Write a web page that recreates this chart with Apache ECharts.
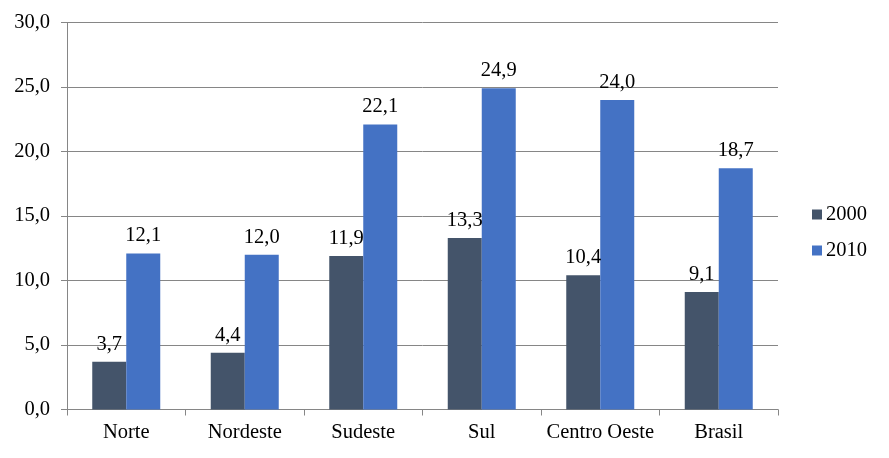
<!DOCTYPE html>
<html>
<head>
<meta charset="utf-8">
<script src="https://cdn.jsdelivr.net/npm/echarts@6/dist/echarts.min.js"></script>
<style>html,body{margin:0;padding:0;background:#fff;overflow:hidden;}#c{width:889px;height:458px;}
#pre{position:absolute;left:-1000px;top:0;font:20px 'Liberation Serif';}</style>
</head>
<body>
<div id="pre">0,123456789 Norte</div>
<div id="c"></div>
<script>
const categories = ['Norte', 'Nordeste', 'Sudeste', 'Sul', 'Centro Oeste', 'Brasil'];
const series2000 = [3.7, 4.4, 11.9, 13.3, 10.4, 9.1];
const series2010 = [12.1, 12.0, 22.1, 24.9, 24.0, 18.7];
const seriesNames = ['2000', '2010'];

const fmt = v => Number(v).toFixed(1).replace('.', ',');
const FONT = 'Liberation Serif';
const FS = 20.5;
const lbl = {show: true, position: 'top', distance: 7, color: '#000', fontFamily: FONT, fontSize: FS,
  formatter: p => fmt(p.value)};

const chart = echarts.init(document.getElementById('c'), null, {renderer: 'canvas'});
chart.setOption({
  animation: false,
  backgroundColor: '#fff',
  grid: {left: 67, right: 111, top: 22.5, bottom: 48.5, containLabel: false},
  legend: {
    orient: 'vertical', left: 812, top: 204, padding: 0,
    itemWidth: 10, itemHeight: 10, itemGap: 15,
    icon: 'rect',
    textStyle: {fontFamily: FONT, fontSize: FS, color: '#000', padding: [0, 0, 0, -1]},
    data: seriesNames
  },
  xAxis: {
    type: 'category', data: categories,
    axisLine: {lineStyle: {color: '#868686', width: 1}},
    axisTick: {show: true, length: 6, alignWithLabel: false, lineStyle: {color: '#868686'}},
    axisLabel: {color: '#000', fontFamily: FONT, fontSize: FS, margin: 13, interval: 0}
  },
  yAxis: {
    type: 'value', min: 0, max: 30, interval: 5,
    axisLine: {show: true, lineStyle: {color: '#868686', width: 1}},
    axisTick: {show: true, length: 6, lineStyle: {color: '#868686'}},
    splitLine: {show: true, lineStyle: {color: '#868686', width: 1}},
    axisLabel: {color: '#000', fontFamily: FONT, fontSize: FS, margin: 17, formatter: v => fmt(v)}
  },
  series: [
    {name: seriesNames[0], type: 'bar', data: series2000, barWidth: 34, barGap: '0%',
     itemStyle: {color: '#44546A'}, label: lbl},
    {name: seriesNames[1], type: 'bar', data: series2010, barWidth: 34, barGap: '0%',
     itemStyle: {color: '#4472C4'}, label: lbl}
  ]
});
</script>
</body>
</html>
